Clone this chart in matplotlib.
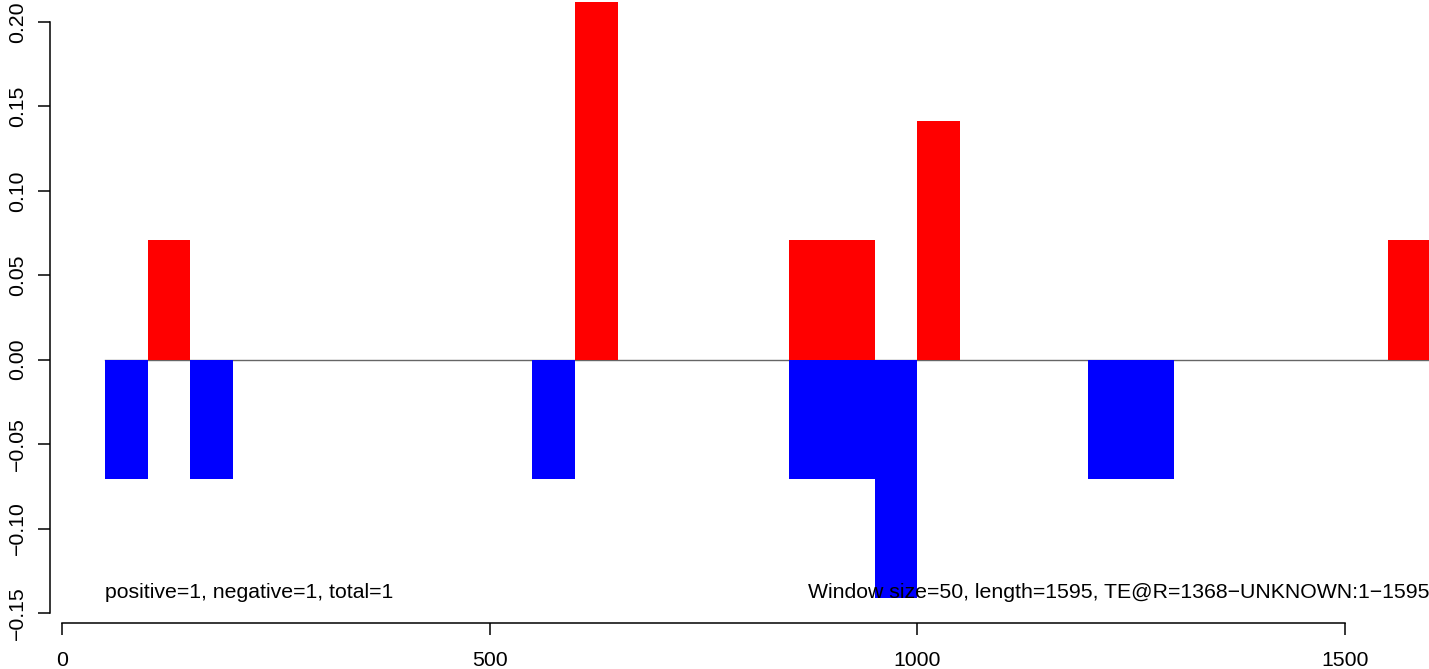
import numpy as np
import matplotlib
matplotlib.use("Agg")
import matplotlib.pyplot as plt

plt.rcParams['font.family'] = ['Liberation Sans', 'DejaVu Sans']

# window starts (size 50) and their values
pos_start = [100, 600, 850, 900, 1000, 1550]
pos_val = [0.0706, 0.2118, 0.0706, 0.0706, 0.1412, 0.0706]
neg_start = [50, 150, 550, 850, 900, 950, 1200, 1250]
neg_val = [-0.0706, -0.0706, -0.0706, -0.0706, -0.0706, -0.1412, -0.0706, -0.0706]
win = 50
seq_len = 1600
xticks = [0, 500, 1000, 1500]
yticks = [-0.15, -0.10, -0.05, 0.00, 0.05, 0.10, 0.15, 0.20]
left_text = "positive=1, negative=1, total=1"
right_text = "Window size=50, length=1595, TE@R=1368\u2212UNKNOWN:1\u22121595"

fs = 15.3

fig = plt.figure(figsize=(14.29, 6.69), dpi=100)
ax = fig.add_axes([0, 0, 1, 1])
ax.patch.set_alpha(0)

ax.plot([win, seq_len], [0, 0], color='#666666', lw=1.0, zorder=1)
ax.bar(pos_start, pos_val, width=win, align='edge', color='red', lw=0, zorder=2)
ax.bar(neg_start, neg_val, width=win, align='edge', color='blue', lw=0, zorder=2)

ax.text(win, -0.138, left_text, fontsize=fs, va='center', ha='left', zorder=3)
ax.text(872, -0.138, right_text, fontsize=fs, va='center', ha='left', zorder=3)

ax.set_xlim(-62 / 0.85533, (1429 - 62) / 0.85533)
ax.set_ylim(-0.18317, 0.21302)

for s in ['top', 'right']:
    ax.spines[s].set_visible(False)
ax.spines['left'].set_position(('data', -14.0))
ax.spines['left'].set_bounds(-0.15, 0.20)
ax.spines['bottom'].set_position(('data', -0.1559))
ax.spines['bottom'].set_bounds(0, 1500)
for s in ['left', 'bottom']:
    ax.spines[s].set_linewidth(1.1)

ax.set_xticks(xticks)
ax.set_xticklabels([str(t) for t in xticks])
ax.set_yticks(yticks)
ax.set_yticklabels([f"{t:.2f}".replace('-', '\u2212') for t in yticks],
                   rotation=90, va='center')
ax.tick_params(direction='out', length=8.6, width=1.1, labelsize=fs)
ax.tick_params(axis='x', pad=11.5)
ax.tick_params(axis='y', pad=8)

fig.savefig("out.png", dpi=100)
